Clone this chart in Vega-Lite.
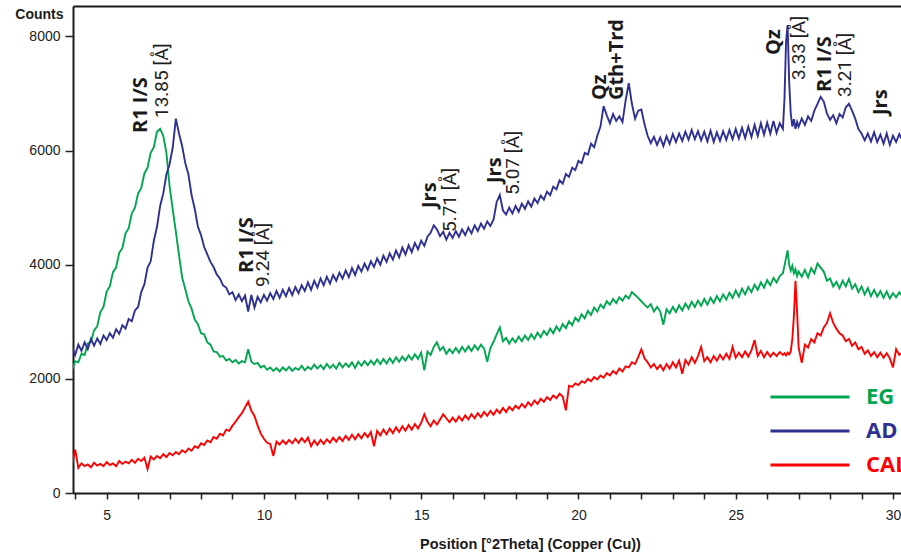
{
"$schema": "https://vega.github.io/schema/vega-lite/v6.json",
"width": 828, "height": 487,
"autosize": {"type": "none"},
"padding": {"left": 73, "top": 6, "right": 0, "bottom": 61},
"background": "white",
"config": {"view": {"stroke": null}, "font": "Liberation Sans"},
"datasets": {
"xrd": [
{"x":3.9,"EG":2150,"AD":2560,"CAL":480},
{"x":4.0,"EG":2310,"AD":2420,"CAL":760},
{"x":4.1,"EG":2290,"AD":2600,"CAL":440},
{"x":4.2,"EG":2440,"AD":2490,"CAL":520},
{"x":4.3,"EG":2420,"AD":2640,"CAL":470},
{"x":4.4,"EG":2620,"AD":2520,"CAL":500},
{"x":4.5,"EG":2650,"AD":2700,"CAL":450},
{"x":4.6,"EG":2850,"AD":2580,"CAL":530},
{"x":4.7,"EG":2920,"AD":2710,"CAL":480},
{"x":4.8,"EG":3170,"AD":2610,"CAL":510},
{"x":4.9,"EG":3260,"AD":2760,"CAL":470},
{"x":5.0,"EG":3530,"AD":2680,"CAL":540},
{"x":5.1,"EG":3620,"AD":2800,"CAL":490},
{"x":5.2,"EG":3870,"AD":2720,"CAL":520},
{"x":5.3,"EG":3950,"AD":2870,"CAL":470},
{"x":5.4,"EG":4210,"AD":2790,"CAL":560},
{"x":5.5,"EG":4290,"AD":2940,"CAL":510},
{"x":5.6,"EG":4550,"AD":2880,"CAL":550},
{"x":5.7,"EG":4640,"AD":3050,"CAL":520},
{"x":5.8,"EG":4900,"AD":3010,"CAL":580},
{"x":5.9,"EG":5000,"AD":3200,"CAL":530},
{"x":6.0,"EG":5250,"AD":3260,"CAL":600},
{"x":6.1,"EG":5340,"AD":3520,"CAL":560},
{"x":6.2,"EG":5600,"AD":3660,"CAL":620},
{"x":6.3,"EG":5700,"AD":3950,"CAL":420},
{"x":6.4,"EG":5960,"AD":4060,"CAL":640},
{"x":6.5,"EG":6060,"AD":4420,"CAL":590},
{"x":6.6,"EG":6330,"AD":4660,"CAL":650},
{"x":6.7,"EG":6380,"AD":5030,"CAL":610},
{"x":6.8,"EG":6260,"AD":5250,"CAL":680},
{"x":6.9,"EG":5960,"AD":5580,"CAL":630},
{"x":7.0,"EG":5380,"AD":5760,"CAL":700},
{"x":7.1,"EG":4970,"AD":6050,"CAL":660},
{"x":7.2,"EG":4580,"AD":6560,"CAL":720},
{"x":7.3,"EG":4170,"AD":6300,"CAL":680},
{"x":7.4,"EG":3780,"AD":6080,"CAL":750},
{"x":7.5,"EG":3570,"AD":5780,"CAL":710},
{"x":7.6,"EG":3360,"AD":5580,"CAL":780},
{"x":7.7,"EG":3230,"AD":5220,"CAL":740},
{"x":7.8,"EG":3040,"AD":4980,"CAL":820},
{"x":7.9,"EG":2960,"AD":4670,"CAL":790},
{"x":8.0,"EG":2800,"AD":4520,"CAL":870},
{"x":8.1,"EG":2780,"AD":4310,"CAL":840},
{"x":8.2,"EG":2640,"AD":4180,"CAL":920},
{"x":8.3,"EG":2600,"AD":4050,"CAL":890},
{"x":8.4,"EG":2480,"AD":3960,"CAL":980},
{"x":8.5,"EG":2470,"AD":3830,"CAL":950},
{"x":8.6,"EG":2390,"AD":3760,"CAL":1040},
{"x":8.7,"EG":2400,"AD":3640,"CAL":1010},
{"x":8.8,"EG":2320,"AD":3600,"CAL":1110},
{"x":8.9,"EG":2350,"AD":3480,"CAL":1090},
{"x":9.0,"EG":2290,"AD":3520,"CAL":1180},
{"x":9.1,"EG":2330,"AD":3380,"CAL":1250},
{"x":9.2,"EG":2270,"AD":3480,"CAL":1330},
{"x":9.3,"EG":2310,"AD":3360,"CAL":1400},
{"x":9.4,"EG":2290,"AD":3460,"CAL":1500},
{"x":9.5,"EG":2520,"AD":3180,"CAL":1600},
{"x":9.6,"EG":2300,"AD":3470,"CAL":1440},
{"x":9.7,"EG":2260,"AD":3250,"CAL":1350},
{"x":9.8,"EG":2280,"AD":3440,"CAL":1180},
{"x":9.9,"EG":2200,"AD":3340,"CAL":1040},
{"x":10.0,"EG":2230,"AD":3470,"CAL":950},
{"x":10.1,"EG":2160,"AD":3370,"CAL":880},
{"x":10.2,"EG":2200,"AD":3500,"CAL":860},
{"x":10.3,"EG":2140,"AD":3400,"CAL":650},
{"x":10.4,"EG":2190,"AD":3540,"CAL":900},
{"x":10.5,"EG":2130,"AD":3420,"CAL":850},
{"x":10.6,"EG":2200,"AD":3560,"CAL":920},
{"x":10.7,"EG":2150,"AD":3450,"CAL":860},
{"x":10.8,"EG":2210,"AD":3590,"CAL":930},
{"x":10.9,"EG":2140,"AD":3470,"CAL":870},
{"x":11.0,"EG":2190,"AD":3610,"CAL":950},
{"x":11.1,"EG":2160,"AD":3500,"CAL":880},
{"x":11.2,"EG":2230,"AD":3640,"CAL":960},
{"x":11.3,"EG":2150,"AD":3540,"CAL":890},
{"x":11.4,"EG":2210,"AD":3690,"CAL":970},
{"x":11.5,"EG":2170,"AD":3560,"CAL":820},
{"x":11.6,"EG":2250,"AD":3720,"CAL":920},
{"x":11.7,"EG":2180,"AD":3600,"CAL":840},
{"x":11.8,"EG":2240,"AD":3760,"CAL":930},
{"x":11.9,"EG":2170,"AD":3640,"CAL":860},
{"x":12.0,"EG":2260,"AD":3790,"CAL":940},
{"x":12.1,"EG":2190,"AD":3670,"CAL":880},
{"x":12.2,"EG":2250,"AD":3820,"CAL":970},
{"x":12.3,"EG":2180,"AD":3720,"CAL":900},
{"x":12.4,"EG":2280,"AD":3860,"CAL":980},
{"x":12.5,"EG":2200,"AD":3760,"CAL":910},
{"x":12.6,"EG":2270,"AD":3900,"CAL":1000},
{"x":12.7,"EG":2210,"AD":3780,"CAL":930},
{"x":12.8,"EG":2290,"AD":3940,"CAL":1020},
{"x":12.9,"EG":2190,"AD":3820,"CAL":940},
{"x":13.0,"EG":2300,"AD":3980,"CAL":1030},
{"x":13.1,"EG":2230,"AD":3880,"CAL":960},
{"x":13.2,"EG":2310,"AD":4020,"CAL":1050},
{"x":13.3,"EG":2240,"AD":3910,"CAL":980},
{"x":13.4,"EG":2320,"AD":4060,"CAL":1070},
{"x":13.5,"EG":2250,"AD":3960,"CAL":820},
{"x":13.6,"EG":2340,"AD":4110,"CAL":1090},
{"x":13.7,"EG":2260,"AD":4000,"CAL":1010},
{"x":13.8,"EG":2350,"AD":4160,"CAL":1110},
{"x":13.9,"EG":2270,"AD":4050,"CAL":1030},
{"x":14.0,"EG":2360,"AD":4200,"CAL":1130},
{"x":14.1,"EG":2280,"AD":4090,"CAL":1050},
{"x":14.2,"EG":2380,"AD":4250,"CAL":1150},
{"x":14.3,"EG":2300,"AD":4130,"CAL":1070},
{"x":14.4,"EG":2390,"AD":4300,"CAL":1170},
{"x":14.5,"EG":2320,"AD":4180,"CAL":1090},
{"x":14.6,"EG":2410,"AD":4340,"CAL":1190},
{"x":14.7,"EG":2340,"AD":4220,"CAL":1110},
{"x":14.8,"EG":2430,"AD":4380,"CAL":1210},
{"x":14.9,"EG":2350,"AD":4270,"CAL":1130},
{"x":15.0,"EG":2460,"AD":4420,"CAL":1230},
{"x":15.1,"EG":2150,"AD":4330,"CAL":1380},
{"x":15.2,"EG":2480,"AD":4490,"CAL":1250},
{"x":15.3,"EG":2420,"AD":4560,"CAL":1170},
{"x":15.4,"EG":2560,"AD":4690,"CAL":1270},
{"x":15.5,"EG":2640,"AD":4620,"CAL":1200},
{"x":15.6,"EG":2500,"AD":4500,"CAL":1290},
{"x":15.7,"EG":2560,"AD":4580,"CAL":1380},
{"x":15.8,"EG":2440,"AD":4440,"CAL":1310},
{"x":15.9,"EG":2520,"AD":4560,"CAL":1240},
{"x":16.0,"EG":2450,"AD":4470,"CAL":1320},
{"x":16.1,"EG":2540,"AD":4590,"CAL":1250},
{"x":16.2,"EG":2460,"AD":4490,"CAL":1340},
{"x":16.3,"EG":2560,"AD":4620,"CAL":1270},
{"x":16.4,"EG":2480,"AD":4520,"CAL":1360},
{"x":16.5,"EG":2570,"AD":4650,"CAL":1290},
{"x":16.6,"EG":2490,"AD":4550,"CAL":1380},
{"x":16.7,"EG":2590,"AD":4690,"CAL":1310},
{"x":16.8,"EG":2510,"AD":4590,"CAL":1400},
{"x":16.9,"EG":2600,"AD":4720,"CAL":1330},
{"x":17.0,"EG":2530,"AD":4630,"CAL":1420},
{"x":17.1,"EG":2300,"AD":4760,"CAL":1350},
{"x":17.2,"EG":2540,"AD":4680,"CAL":1440},
{"x":17.3,"EG":2650,"AD":4790,"CAL":1370},
{"x":17.4,"EG":2780,"AD":5100,"CAL":1460},
{"x":17.5,"EG":2900,"AD":5220,"CAL":1400},
{"x":17.6,"EG":2660,"AD":4950,"CAL":1490},
{"x":17.7,"EG":2720,"AD":4880,"CAL":1420},
{"x":17.8,"EG":2620,"AD":5000,"CAL":1510},
{"x":17.9,"EG":2710,"AD":4900,"CAL":1450},
{"x":18.0,"EG":2640,"AD":5030,"CAL":1530},
{"x":18.1,"EG":2740,"AD":4930,"CAL":1480},
{"x":18.2,"EG":2660,"AD":5070,"CAL":1560},
{"x":18.3,"EG":2760,"AD":4980,"CAL":1500},
{"x":18.4,"EG":2680,"AD":5110,"CAL":1590},
{"x":18.5,"EG":2780,"AD":5020,"CAL":1530},
{"x":18.6,"EG":2700,"AD":5160,"CAL":1620},
{"x":18.7,"EG":2810,"AD":5080,"CAL":1560},
{"x":18.8,"EG":2730,"AD":5210,"CAL":1650},
{"x":18.9,"EG":2840,"AD":5140,"CAL":1600},
{"x":19.0,"EG":2770,"AD":5280,"CAL":1680},
{"x":19.1,"EG":2880,"AD":5220,"CAL":1630},
{"x":19.2,"EG":2800,"AD":5370,"CAL":1710},
{"x":19.3,"EG":2920,"AD":5320,"CAL":1660},
{"x":19.4,"EG":2840,"AD":5480,"CAL":1740},
{"x":19.5,"EG":2960,"AD":5420,"CAL":1690},
{"x":19.6,"EG":2890,"AD":5590,"CAL":1450},
{"x":19.7,"EG":3010,"AD":5540,"CAL":1880},
{"x":19.8,"EG":2940,"AD":5700,"CAL":1860},
{"x":19.9,"EG":3070,"AD":5660,"CAL":1920},
{"x":20.0,"EG":3010,"AD":5820,"CAL":1890},
{"x":20.1,"EG":3130,"AD":5780,"CAL":1960},
{"x":20.2,"EG":3060,"AD":5960,"CAL":1930},
{"x":20.3,"EG":3190,"AD":5930,"CAL":2000},
{"x":20.4,"EG":3120,"AD":6120,"CAL":1960},
{"x":20.5,"EG":3250,"AD":6060,"CAL":2030},
{"x":20.6,"EG":3180,"AD":6260,"CAL":1990},
{"x":20.7,"EG":3300,"AD":6420,"CAL":2060},
{"x":20.8,"EG":3240,"AD":6780,"CAL":2020},
{"x":20.9,"EG":3360,"AD":6620,"CAL":2100},
{"x":21.0,"EG":3300,"AD":6480,"CAL":2060},
{"x":21.1,"EG":3400,"AD":6640,"CAL":2140},
{"x":21.2,"EG":3330,"AD":6520,"CAL":2090},
{"x":21.3,"EG":3430,"AD":6600,"CAL":2180},
{"x":21.4,"EG":3370,"AD":6500,"CAL":2130},
{"x":21.5,"EG":3460,"AD":6880,"CAL":2220},
{"x":21.6,"EG":3410,"AD":7180,"CAL":2200},
{"x":21.7,"EG":3520,"AD":6820,"CAL":2290},
{"x":21.8,"EG":3470,"AD":6560,"CAL":2260},
{"x":21.9,"EG":3420,"AD":6700,"CAL":2380},
{"x":22.0,"EG":3360,"AD":6720,"CAL":2520},
{"x":22.1,"EG":3300,"AD":6460,"CAL":2360},
{"x":22.2,"EG":3250,"AD":6260,"CAL":2290},
{"x":22.3,"EG":3310,"AD":6130,"CAL":2200},
{"x":22.4,"EG":3180,"AD":6240,"CAL":2260},
{"x":22.5,"EG":3260,"AD":6100,"CAL":2170},
{"x":22.6,"EG":3180,"AD":6230,"CAL":2240},
{"x":22.7,"EG":2950,"AD":6080,"CAL":2150},
{"x":22.8,"EG":3220,"AD":6250,"CAL":2260},
{"x":22.9,"EG":3150,"AD":6120,"CAL":2180},
{"x":23.0,"EG":3260,"AD":6290,"CAL":2290},
{"x":23.1,"EG":3170,"AD":6150,"CAL":2200},
{"x":23.2,"EG":3290,"AD":6300,"CAL":2320},
{"x":23.3,"EG":3200,"AD":6170,"CAL":2090},
{"x":23.4,"EG":3320,"AD":6330,"CAL":2330},
{"x":23.5,"EG":3230,"AD":6190,"CAL":2250},
{"x":23.6,"EG":3350,"AD":6360,"CAL":2380},
{"x":23.7,"EG":3260,"AD":6200,"CAL":2280},
{"x":23.8,"EG":3370,"AD":6340,"CAL":2400},
{"x":23.9,"EG":3280,"AD":6180,"CAL":2560},
{"x":24.0,"EG":3400,"AD":6330,"CAL":2310},
{"x":24.1,"EG":3300,"AD":6160,"CAL":2380},
{"x":24.2,"EG":3420,"AD":6350,"CAL":2290},
{"x":24.3,"EG":3330,"AD":6150,"CAL":2400},
{"x":24.4,"EG":3450,"AD":6320,"CAL":2320},
{"x":24.5,"EG":3360,"AD":6170,"CAL":2420},
{"x":24.6,"EG":3480,"AD":6340,"CAL":2340},
{"x":24.7,"EG":3390,"AD":6190,"CAL":2440},
{"x":24.8,"EG":3510,"AD":6360,"CAL":2350},
{"x":24.9,"EG":3420,"AD":6200,"CAL":2560},
{"x":25.0,"EG":3550,"AD":6380,"CAL":2370},
{"x":25.1,"EG":3440,"AD":6210,"CAL":2460},
{"x":25.2,"EG":3580,"AD":6400,"CAL":2380},
{"x":25.3,"EG":3480,"AD":6220,"CAL":2480},
{"x":25.4,"EG":3610,"AD":6420,"CAL":2390},
{"x":25.5,"EG":3520,"AD":6240,"CAL":2500},
{"x":25.6,"EG":3650,"AD":6450,"CAL":2680},
{"x":25.7,"EG":3560,"AD":6260,"CAL":2400},
{"x":25.8,"EG":3690,"AD":6480,"CAL":2490},
{"x":25.9,"EG":3600,"AD":6280,"CAL":2380},
{"x":26.0,"EG":3730,"AD":6490,"CAL":2470},
{"x":26.1,"EG":3640,"AD":6300,"CAL":2390},
{"x":26.2,"EG":3770,"AD":6520,"CAL":2460},
{"x":26.3,"EG":3690,"AD":6310,"CAL":2400},
{"x":26.4,"EG":3800,"AD":6480,"CAL":2470},
{"x":26.5,"EG":3850,"AD":6380,"CAL":2420},
{"x":26.55,"EG":3980,"AD":6900,"CAL":2450},
{"x":26.6,"EG":4120,"AD":7900,"CAL":2410},
{"x":26.65,"EG":4250,"AD":8200,"CAL":2460},
{"x":26.7,"EG":4000,"AD":7200,"CAL":2430},
{"x":26.75,"EG":3900,"AD":6650,"CAL":2480},
{"x":26.8,"EG":3980,"AD":6420,"CAL":2700},
{"x":26.85,"EG":3850,"AD":6550,"CAL":3100},
{"x":26.9,"EG":3920,"AD":6380,"CAL":3720},
{"x":26.95,"EG":3800,"AD":6500,"CAL":3200},
{"x":27.0,"EG":3880,"AD":6420,"CAL":2550},
{"x":27.1,"EG":3790,"AD":6560,"CAL":2280},
{"x":27.2,"EG":3910,"AD":6450,"CAL":2600},
{"x":27.3,"EG":3780,"AD":6600,"CAL":2550},
{"x":27.4,"EG":3940,"AD":6520,"CAL":2700},
{"x":27.5,"EG":3850,"AD":6700,"CAL":2640},
{"x":27.6,"EG":4020,"AD":6820,"CAL":2800},
{"x":27.7,"EG":3950,"AD":6940,"CAL":2760},
{"x":27.8,"EG":3880,"AD":6860,"CAL":2900},
{"x":27.9,"EG":3720,"AD":6650,"CAL":2980},
{"x":28.0,"EG":3760,"AD":6540,"CAL":3150},
{"x":28.1,"EG":3620,"AD":6620,"CAL":2980},
{"x":28.2,"EG":3700,"AD":6480,"CAL":2880},
{"x":28.3,"EG":3590,"AD":6640,"CAL":2800},
{"x":28.4,"EG":3720,"AD":6580,"CAL":2760},
{"x":28.5,"EG":3620,"AD":6760,"CAL":2660},
{"x":28.6,"EG":3750,"AD":6820,"CAL":2700},
{"x":28.7,"EG":3580,"AD":6700,"CAL":2580},
{"x":28.8,"EG":3660,"AD":6560,"CAL":2640},
{"x":28.9,"EG":3520,"AD":6380,"CAL":2520},
{"x":29.0,"EG":3620,"AD":6300,"CAL":2560},
{"x":29.1,"EG":3480,"AD":6180,"CAL":2440},
{"x":29.2,"EG":3590,"AD":6300,"CAL":2500},
{"x":29.3,"EG":3450,"AD":6160,"CAL":2400},
{"x":29.4,"EG":3560,"AD":6320,"CAL":2470},
{"x":29.5,"EG":3440,"AD":6150,"CAL":2380},
{"x":29.6,"EG":3540,"AD":6280,"CAL":2460},
{"x":29.7,"EG":3420,"AD":6120,"CAL":2370},
{"x":29.8,"EG":3530,"AD":6300,"CAL":2450},
{"x":29.9,"EG":3410,"AD":6100,"CAL":2360},
{"x":30.0,"EG":3500,"AD":6260,"CAL":2200},
{"x":30.1,"EG":3430,"AD":6150,"CAL":2520},
{"x":30.2,"EG":3520,"AD":6290,"CAL":2420},
{"x":30.3,"EG":3440,"AD":6180,"CAL":2460}
],
"ann": [
{"x":6.087,"y":6308,"t":"R1 I/S","w":"b"},
{"x":6.753,"y":6571,"t":"13.85 [Å]","w":"n"},
{"x":9.449,"y":3855,"t":"R1 I/S","w":"b"},
{"x":9.956,"y":3610,"t":"9.24 [Å]","w":"n"},
{"x":15.284,"y":4994,"t":"Jrs","w":"b"},
{"x":15.918,"y":4573,"t":"5.71 [Å]","w":"n"},
{"x":17.346,"y":5432,"t":"Jrs","w":"b"},
{"x":17.917,"y":5222,"t":"5.07 [Å]","w":"n"},
{"x":20.676,"y":6886,"t":"Qz","w":"b"},
{"x":21.215,"y":6886,"t":"Gth+Trd","w":"b"},
{"x":26.226,"y":7675,"t":"Qz","w":"b"},
{"x":27.02,"y":7237,"t":"3.33 [Å]","w":"n"},
{"x":27.843,"y":7026,"t":"R1 I/S","w":"b"},
{"x":28.477,"y":6939,"t":"3.21 [Å]","w":"n"},
{"x":29.619,"y":6623,"t":"Jrs","w":"b"}
]
},
"layer": [
{
"data": {"name": "xrd"},
"transform": [{"fold": ["EG", "AD", "CAL"], "as": ["series", "counts"]}],
"mark": {"type": "line", "strokeWidth": 1.9, "clip": true},
"encoding": {
"x": {"field": "x", "type": "quantitative",
 "scale": {"domain": [3.93, 30.255], "nice": false, "zero": false},
 "axis": {"values": [4,5,6,7,8,9,10,11,12,13,14,15,16,17,18,19,20,21,22,23,24,25,26,27,28,29,30],
  "labelExpr": "datum.value % 5 === 0 ? datum.label : ''", "format": "d",
  "tickSize": 6, "tickWidth": 1.5, "tickColor": "#222", "domainWidth": 2, "domainColor": "#1a1a1a",
  "labelFontSize": 14, "labelColor": "#222", "labelPadding": 9, "labelFlush": false, "labelOverlap": false, "grid": false,
  "title": "Position [°2Theta] (Copper (Cu))", "titleFontSize": 14.5, "titleFontWeight": "bold", "titleColor": "#1a1a1a",
  "titleX": 457, "titleY": 55, "titleBaseline": "alphabetic", "titleAlign": "center"}},
"y": {"field": "counts", "type": "quantitative",
 "scale": {"domain": [0, 8534], "nice": false},
 "axis": {"values": [0, 2000, 4000, 6000, 8000], "format": "d",
  "tickSize": 8, "tickWidth": 1.5, "tickColor": "#222", "domainWidth": 2, "domainColor": "#1a1a1a",
  "labelFontSize": 14, "labelColor": "#222", "labelPadding": 5, "labelFlush": false, "grid": false,
  "title": "Counts", "titleAngle": 0, "titleAlign": "right", "titleBaseline": "middle", "titleX": -10, "titleY": 8,
  "titleFontSize": 14, "titleFontWeight": "bold", "titleColor": "#1a1a1a"}},
"color": {"field": "series", "type": "nominal",
 "scale": {"domain": ["EG", "AD", "CAL"], "range": ["#00a650", "#2e3192", "#ff0000"]},
 "legend": {"orient": "none", "legendX": 696, "legendY": 379, "title": null, "padding": 0,
  "symbolType": "stroke", "symbolSize": 6241, "symbolStrokeWidth": 3, "clipHeight": 24, "rowPadding": 10,
  "labelFont": "Open Sans", "labelFontWeight": "bold", "labelFontSize": 22, "labelOffset": 15, "labelLimit": 0,
  "labelColor": {"expr": "datum.label == 'EG' ? '#00a650' : datum.label == 'AD' ? '#2e3192' : '#ff0000'"}}}
}
},
{
"data": {"name": "ann"},
"transform": [{"filter": "datum.w == 'b'"}],
"mark": {"type": "text", "angle": 270, "align": "left", "baseline": "middle", "font": "Open Sans", "fontWeight": "bold", "fontSize": 20, "color": "#1a1a1a"},
"encoding": {
"x": {"field": "x", "type": "quantitative", "axis": {"orient": "top", "ticks": false, "labels": false, "title": null, "grid": false, "domainWidth": 2, "domainColor": "#1a1a1a"}},
"y": {"field": "y", "type": "quantitative"},
"text": {"field": "t"}
}
},
{
"data": {"name": "ann"},
"transform": [{"filter": "datum.w == 'n'"}],
"mark": {"type": "text", "angle": 270, "align": "left", "baseline": "middle", "font": "Roboto", "fontWeight": "normal", "fontSize": 19, "color": "#1e1e1e"},
"encoding": {
"x": {"field": "x", "type": "quantitative", "axis": null},
"y": {"field": "y", "type": "quantitative"},
"text": {"field": "t"}
}
}
],
"resolve": {"axis": {"x": "independent"}}
}
